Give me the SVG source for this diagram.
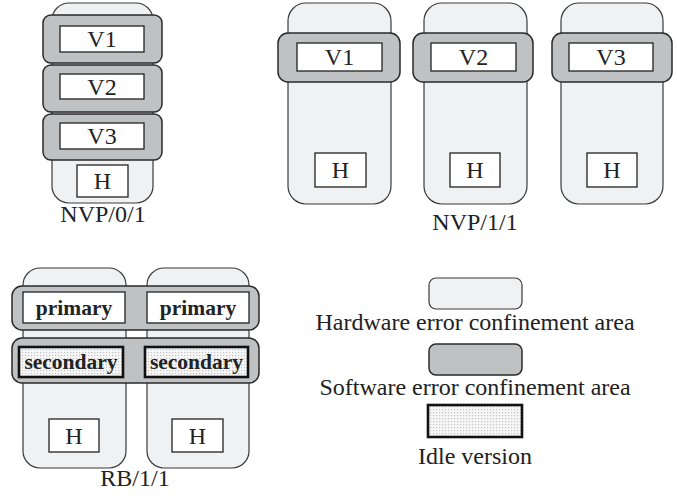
<svg xmlns="http://www.w3.org/2000/svg" width="677" height="498" viewBox="0 0 677 498">
<defs>
<pattern id="dots" width="3" height="3" patternUnits="userSpaceOnUse">
<rect width="3" height="3" fill="#f6f6f6"/>
<rect x="1" y="1" width="1.2" height="1.2" fill="#c4c4c4"/>
</pattern>
</defs>
<style>
.hw{fill:#f0f1f3;stroke:#3a3a3a;stroke-width:1.2}
.sw{fill:#c0c1c3;stroke:#2a2a2a;stroke-width:1.5}
.ver{fill:#fff;stroke:#222;stroke-width:1.3}
.idle{fill:url(#dots);stroke:#111;stroke-width:2.6}
text{font-family:"Liberation Serif","Times New Roman",serif;font-size:24px;fill:#222;text-anchor:middle}
.b{font-weight:bold;font-size:21.5px}
</style>
<rect width="677" height="498" fill="#fff"/>

<g id="nvp01">
<rect class="hw" x="52" y="3" width="101" height="200" rx="17"/>
<rect class="sw" x="43" y="15" width="119" height="48" rx="8"/>
<rect class="sw" x="43" y="65" width="119" height="47" rx="8"/>
<rect class="sw" x="43" y="114" width="119" height="46" rx="8"/>
<rect class="ver" x="60" y="26" width="84" height="26"/>
<text x="102" y="47">V1</text>
<rect class="ver" x="60" y="74" width="84" height="25"/>
<text x="102" y="95">V2</text>
<rect class="ver" x="60" y="123" width="84" height="26"/>
<text x="102" y="144">V3</text>
<rect class="ver" x="77" y="165" width="51" height="32"/>
<text x="102.5" y="189">H</text>
<text x="103" y="222">NVP/0/1</text>
</g>

<g id="nvp11">
<rect class="hw" x="288" y="3" width="103" height="201" rx="18"/>
<rect class="hw" x="424" y="3" width="103" height="201" rx="18"/>
<rect class="hw" x="561" y="3" width="102" height="201" rx="18"/>
<rect class="sw" x="278" y="33" width="122" height="49" rx="10"/>
<rect class="sw" x="413" y="33" width="120" height="49" rx="10"/>
<rect class="sw" x="552" y="33" width="120" height="49" rx="10"/>
<rect class="ver" x="297" y="43" width="85" height="28"/>
<text x="339.5" y="65">V1</text>
<rect class="ver" x="431" y="43" width="85" height="28"/>
<text x="473.5" y="65">V2</text>
<rect class="ver" x="569" y="43" width="84" height="28"/>
<text x="611" y="65">V3</text>
<rect class="ver" x="315" y="153" width="51" height="34"/>
<text x="340.5" y="178">H</text>
<rect class="ver" x="450" y="153" width="50" height="34"/>
<text x="475" y="178">H</text>
<rect class="ver" x="587" y="153" width="50" height="34"/>
<text x="612" y="178">H</text>
<text x="475" y="230">NVP/1/1</text>
</g>

<g id="rb11">
<rect class="hw" x="23" y="268" width="103" height="200" rx="17"/>
<rect class="hw" x="147" y="268" width="102" height="200" rx="17"/>
<rect class="sw" x="12" y="286" width="247" height="44" rx="10"/>
<rect class="sw" x="12" y="338" width="247" height="45" rx="10"/>
<rect class="ver" x="23" y="292" width="102" height="31"/>
<text class="b" x="74" y="315">primary</text>
<rect class="ver" x="147" y="292" width="102" height="31"/>
<text class="b" x="198" y="315">primary</text>
<rect class="idle" x="19" y="347" width="104" height="30"/>
<text class="b" x="71" y="369">secondary</text>
<rect class="idle" x="145" y="347" width="103" height="30"/>
<text class="b" x="196.5" y="369">secondary</text>
<rect class="ver" x="49" y="419" width="50" height="33"/>
<text x="74" y="444">H</text>
<rect class="ver" x="172" y="419" width="51" height="33"/>
<text x="197.5" y="444">H</text>
<text x="135" y="486">RB/1/1</text>
</g>

<g id="legend">
<rect class="hw" x="429" y="278" width="93" height="31" rx="7"/>
<text x="475" y="330">Hardware error confinement area</text>
<rect class="sw" x="429" y="344" width="93" height="31" rx="7"/>
<text x="475" y="395">Software error confinement area</text>
<rect class="idle" x="428" y="405" width="94" height="32"/>
<text x="475" y="464">Idle version</text>
</g>
<g id="connectors"/>
</svg>
